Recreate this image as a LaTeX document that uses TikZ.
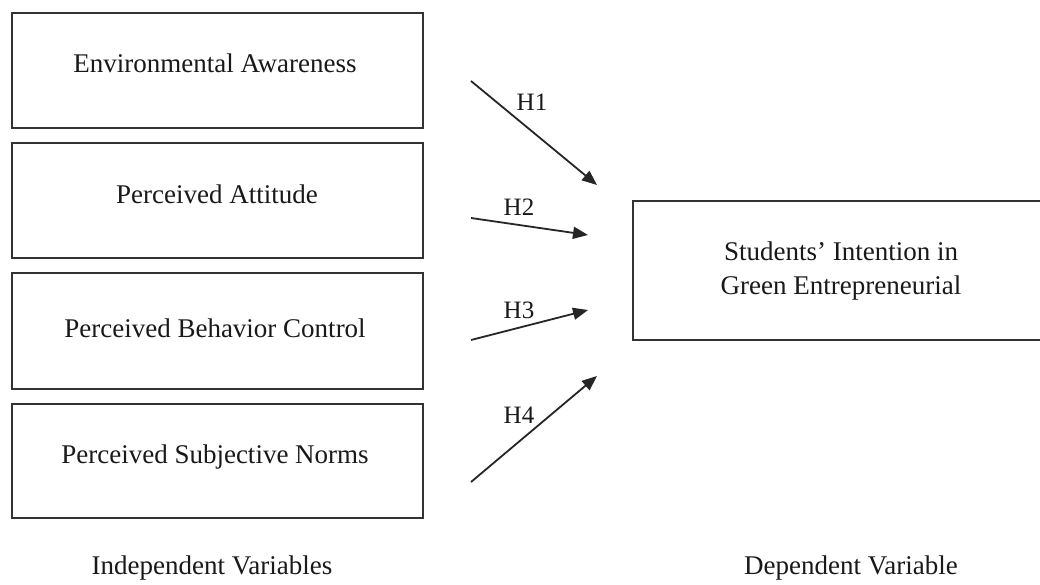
\documentclass[tikz,border=0pt]{standalone}
\usepackage{fontspec}
\setmainfont{Liberation Serif}
\usetikzlibrary{arrows.meta}
\begin{document}
\begin{tikzpicture}[x=1pt,y=-1pt,
  box/.style={draw=black!80,line width=2pt,inner sep=0pt},
  lbl/.style={font=\fontsize{27}{34}\selectfont,text=black!90,inner sep=0pt,align=center},
  hlbl/.style={font=\fontsize{25}{30}\selectfont,text=black!90,inner sep=0pt},
  arr/.style={draw=black!85,line width=1.8pt,-{Triangle[length=15pt,width=12pt]}}]
\useasboundingbox (0,0) rectangle (1040,584);
\clip (0,0) rectangle (1040,584);
\fill[white] (0,0) rectangle (1040,584);
% boxes
\draw[box] (12,12.5) rectangle (423,127.5) coordinate (b1);
\draw[box] (12,142.5) rectangle (423,258) coordinate (b2);
\draw[box] (12,273) rectangle (423,389) coordinate (b3);
\draw[box] (12,403.5) rectangle (423,518) coordinate (b4);
\draw[box] (633,201) rectangle (1060,340) coordinate (b5);
\node[lbl] (t1) at (215,63) {Environmental Awareness};
\node[lbl] (t2) at (217,194) {Perceived Attitude};
\node[lbl] (t3) at (215,328) {Perceived Behavior Control};
\node[lbl] (t4) at (215,457) {Perceived Subjective Norms};
\node[lbl] (t5) at (841,271) {Students' Intention in\\Green Entrepreneurial};
\node[lbl] (iv) at (212,568) {Independent Variables};
\node[lbl] (dv) at (851,568) {Dependent Variable};
% arrows
\coordinate (s1) at (471,81);  \coordinate (e1) at (597,185);
\coordinate (s2) at (471,218); \coordinate (e2) at (588,235);
\coordinate (s3) at (471,340); \coordinate (e3) at (588,310);
\coordinate (s4) at (471,482); \coordinate (e4) at (597,376);
\draw[arr] (s1) -- (e1);
\draw[arr] (s2) -- (e2);
\draw[arr] (s3) -- (e3);
\draw[arr] (s4) -- (e4);
\node[hlbl] (h1) at (532,102) {H1};
\node[hlbl] (h2) at (519,207) {H2};
\node[hlbl] (h3) at (519,310) {H3};
\node[hlbl] (h4) at (519,415) {H4};
\end{tikzpicture}
\end{document}
